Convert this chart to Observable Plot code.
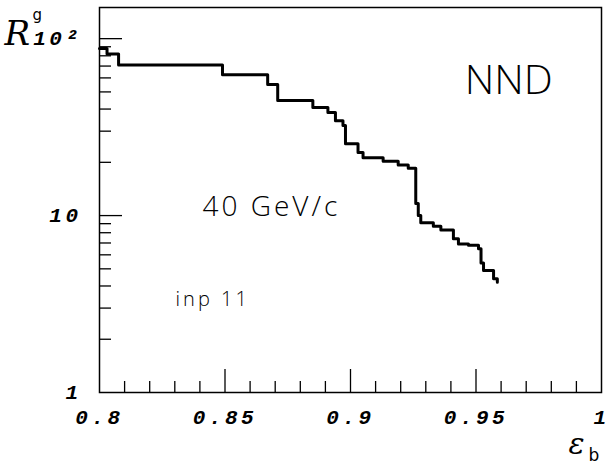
<!DOCTYPE html>
<html><head><meta charset="utf-8">
<script src="https://cdn.jsdelivr.net/npm/d3@7"></script>
<script src="https://cdn.jsdelivr.net/npm/@observablehq/plot@0.6"></script>
<style>
html,body{margin:0;padding:0;background:#fff;}
#chart svg{display:block;}
</style>
</head><body><div id="chart"></div>
<script>
// efficiency (x) and rejection (y) step values
const eff = [0.800,0.803,0.8076,0.849,0.867,0.871,0.885,0.891,0.894,0.897,0.898,0.903,0.905,0.913,0.919,0.923,0.926,0.927,0.928,0.933,0.936,0.941,0.943,0.947,0.951,0.952,0.953,0.957,0.9585];
const rej = [88,82,71,62.6,55,44.7,40.8,38.2,34.4,32.3,25.5,22.7,21.2,20.3,19.3,18.5,11.7,10.0,9.1,8.7,8.3,7.4,6.9,6.8,6.5,5.4,4.9,4.4,4.2];

const xLabelTicks = [0.8, 0.85, 0.9, 0.95, 1];
const xTickLabels = ["0.8", "0.85", "0.9", "0.95", "1"];
const xMajorTicks = [0.85, 0.9, 0.95];
const xMinorTicks = [0.81,0.82,0.83,0.84,0.86,0.87,0.88,0.89,0.91,0.92,0.93,0.94,0.96,0.97,0.98,0.99];

const yLabelTicks = [1, 10, 100];
const yTickLabels = ["1", "10", "10²"];
const yMajorTicks = [10, 100];
const yMinorTicks = [2,3,4,5,6,7,8,9,20,30,40,50,60,70,80,90];

const texts = ["NND", "40 GeV/c", "inp 11"];
const yTitle = ["R", "g"];
const xTitle = ["ε", "b"];

const data = eff.map((e, i) => ({e, r: rej[i]}));

const W = 612, Hh = 470;
const mL = 99, mR = 11, mT = 7, mB = 78;
const FW = W - mL - mR, FH = Hh - mT - mB;

const mono = {fontFamily: "Liberation Mono", fontWeight: "bold", fontStyle: "italic"};
const sans = {fontFamily: "Open Sans", fontWeight: 300, fill: "black"};

const chart = Plot.plot({
  width: W, height: Hh,
  marginLeft: mL, marginRight: mR, marginTop: mT, marginBottom: mB,
  x: {domain: [0.8, 1]},
  y: {type: "log", domain: [1, 150]},
  style: {background: "white", color: "black"},
  marks: [
    Plot.frame({stroke: "black", strokeWidth: 1.5}),
    Plot.ruleX(xMajorTicks, {x: d => d, insetTop: FH - 23, stroke: "black", strokeWidth: 1.3}),
    Plot.ruleX(xMinorTicks, {x: d => d, insetTop: FH - 11, stroke: "black", strokeWidth: 1.3}),
    Plot.ruleY(yMajorTicks, {y: d => d, insetRight: FW - 23, stroke: "black", strokeWidth: 1.3}),
    Plot.ruleY(yMinorTicks, {y: d => d, insetRight: FW - 12, stroke: "black", strokeWidth: 1.3}),
    Plot.axisX(xLabelTicks, {tickSize: 0, tickPadding: 17, label: null, fontSize: 21, ...mono,
      tickFormat: d => xTickLabels[xLabelTicks.indexOf(d)]}),
    Plot.axisY(yLabelTicks, {tickSize: 0, tickPadding: 18, label: null, fontSize: 21, ...mono,
      tickFormat: d => yTickLabels[yLabelTicks.indexOf(d)]}),
    Plot.line(data, {x: "e", y: "r", curve: "step-after", stroke: "black", strokeWidth: 3}),
    Plot.text([texts[0]], {x: 0.9455, y: 48.9, text: d => d, textAnchor: "start", lineAnchor: "bottom", fontSize: 41, ...sans}),
    Plot.text([texts[1]], {x: 0.841, y: 10, text: d => d, textAnchor: "start", lineAnchor: "bottom", fontSize: 28, ...sans}),
    Plot.text([texts[2]], {x: 0.8303, y: 3.1, text: d => d, textAnchor: "start", lineAnchor: "bottom", fontSize: 20, ...sans}),
    Plot.text([yTitle[0]], {frameAnchor: "top-left", dx: -95, dy: 37, text: d => d, textAnchor: "start", lineAnchor: "bottom", fontSize: 34, fontFamily: "DejaVu Serif", fontStyle: "italic"}),
    Plot.text([yTitle[1]], {frameAnchor: "top-left", dx: -67, dy: 12, text: d => d, textAnchor: "start", lineAnchor: "bottom", fontSize: 15, fontFamily: "DejaVu Sans"}),
    Plot.text([xTitle[0]], {frameAnchor: "bottom-right", dx: -33, dy: 61, text: d => d, textAnchor: "start", lineAnchor: "bottom", fontSize: 30, fontFamily: "DejaVu Serif", fontStyle: "italic"}),
    Plot.text([xTitle[1]], {frameAnchor: "bottom-right", dx: -13, dy: 68, text: d => d, textAnchor: "start", lineAnchor: "bottom", fontSize: 17, fontFamily: "DejaVu Sans"})
  ]
});
document.getElementById("chart").appendChild(chart);
d3.select(chart).selectAll('g[aria-label$="tick label"] text').style("letter-spacing", "3.5px");
d3.select(chart).selectAll('g[aria-label="text"] text').each(function() {
  const t = this.textContent;
  if (t === "40 GeV/c") d3.select(this).style("letter-spacing", "3px");
  if (t === "inp 11") d3.select(this).style("letter-spacing", "3px");
});
</script>
</body></html>
